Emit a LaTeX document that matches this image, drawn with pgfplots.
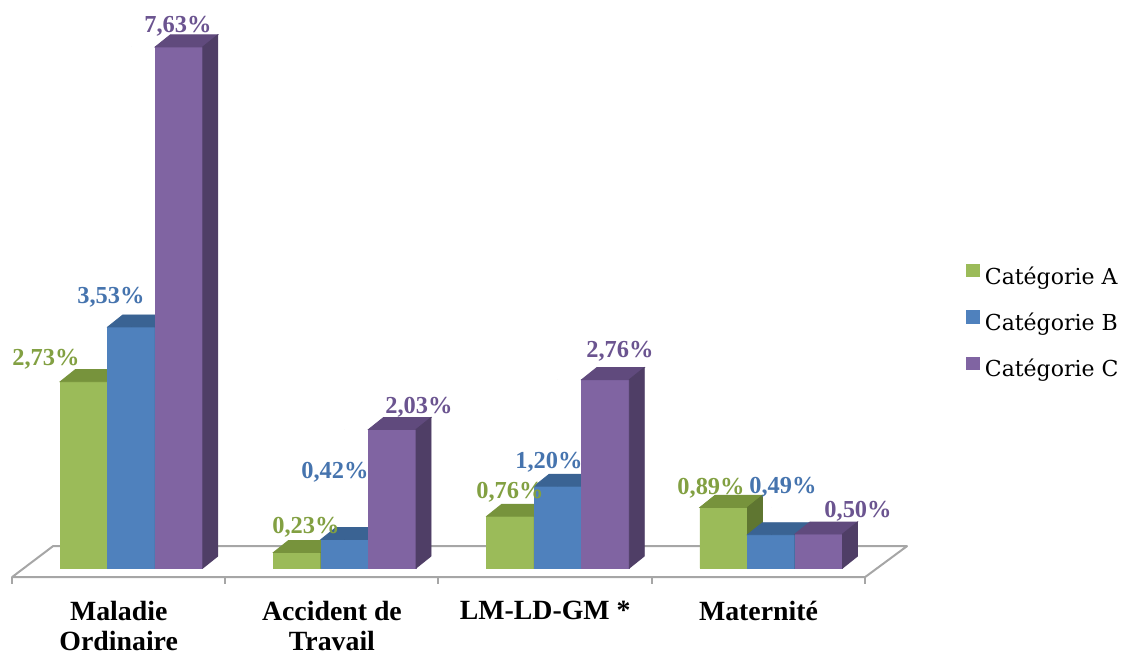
\documentclass[border=0pt]{standalone}
\usepackage{pgfplots}
\pgfplotsset{compat=1.18}
\usepackage{pgfplotstable}
\usepackage{fontspec}
\setmainfont{Liberation Serif}
\newfontfamily\legfont{DejaVu Serif}

\definecolor{gA}{HTML}{9BBB59}\definecolor{gAt}{HTML}{77933C}\definecolor{gAs}{HTML}{5F7631}
\definecolor{bB}{HTML}{4F81BD}\definecolor{bBt}{HTML}{3A6393}\definecolor{bBs}{HTML}{30527A}
\definecolor{pC}{HTML}{8064A2}\definecolor{pCt}{HTML}{604A7D}\definecolor{pCs}{HTML}{4F3E66}
\definecolor{lA}{HTML}{82A042}\definecolor{lB}{HTML}{4674AE}\definecolor{lC}{HTML}{6B5490}
\definecolor{floorc}{HTML}{A6A6A6}

% x = category, v = value (%), lx/ly = position of the value label
\pgfplotstableread{
x v lx ly
0 2.73 -0.4010 2.9722
1 0.23 0.8183 0.5124
2 0.76 1.7749 1.0249
3 0.89 2.7175 1.0835
}\dataA
\pgfplotstableread{
x v lx ly
0 3.53 -0.0961 3.8799
1 0.42 0.9543 1.3177
2 1.20 1.9578 1.4641
3 0.49 3.0551 1.0981
}\dataB
\pgfplotstableread{
x v lx ly
0 7.63 0.2181 7.8477
1 2.03 1.3482 2.2694
2 2.76 2.2907 3.0893
3 0.50 3.4069 0.7467
}\dataC

\pgfplotsset{
  threed/.style n args={4}{% #1 centre shift (pt), #2 top colour, #3 side colour, #4 front colour
    only marks, mark=*, mark size=0pt, mark options={draw=none,fill=none},
    visualization depends on={rawy \as \hv},
    scatter, point meta=y,
    scatter/@pre marker code/.code={%
      \begin{scope}
      \pgfkeys{/pgf/fpu=true}%
      \pgfmathparse{\hv*34.15}%
      \pgfmathfloattofixed{\pgfmathresult}%
      \let\hh\pgfmathresult
      \pgfkeys{/pgf/fpu=false}%
      \pgfmathsetmacro\xl{#1-11.875}%
      \pgfmathsetmacro\xr{#1+11.875}%
      \fill[#4] (\xl pt,0pt) rectangle (\xr pt,-\hh pt);
      \fill[#2] (\xl pt,0pt) -- (\xr pt,0pt) -- (\xr pt+7.5pt,6pt) -- (\xl pt+7.5pt,6pt) -- cycle;
      \fill[#3] (\xr pt,0pt) -- (\xr pt+7.5pt,6pt) -- (\xr pt+7.5pt,6pt-\hh pt) -- (\xr pt,-\hh pt) -- cycle;
      \end{scope}
    },
    scatter/@post marker code/.code={},
    forget plot,
  },
  sqleg/.style={legend image code/.code={\fill[##1] (0pt,-0.3pt) rectangle (6.8pt,6.3pt);}},
  labs/.style={% #1 colour
    only marks, mark=none, forget plot, point meta=explicit,
    nodes near coords={\pgfmathprintnumber[fixed,fixed zerofill,precision=2,use comma,assume math mode=true]{\pgfplotspointmeta}\%},
    every node near coord/.append style={font=\fontsize{12.2}{14}\selectfont\bfseries, text=#1, anchor=base, inner sep=0pt},
  },
}

\begin{document}
\begin{tikzpicture}
\begin{axis}[
  x=106.6pt, y=34.15pt,
  xmin=-0.6, xmax=3.7, ymin=0, ymax=7.7,
  clip=false,
  axis y line=none, axis x line*=bottom,
  x axis line style={draw=none}, xtick style={draw=none},
  ytick=\empty,
  xtick={-0.06,0.94,1.94,2.94},
  xticklabels={{Maladie\\Ordinaire},{Accident de\\Travail},{LM-LD-GM *},{Maternité}},
  xticklabel style={align=center, anchor=north, yshift=-13pt, font=\fontsize{13.9}{15}\selectfont\bfseries},
  legend style={at={(1.0495,0.4660)}, anchor=west, draw=none, fill=none, inner xsep=0pt, inner ysep=0pt,
    font=\legfont\fontsize{11}{12.5}\selectfont, row sep=7.8pt, nodes={inner sep=2.5pt}},
  legend cell align=left,
]
% bounding box of the whole picture (1126 x 655 px)
\path (axis cs:-0.6166,-1.2738) rectangle (axis cs:4.6636,8.3163);
% floor
\draw[floorc, line width=1pt, line join=round]
  (axis cs:-0.5604,-0.1318) -- (axis cs:-0.3681,0.3221) -- (axis cs:3.6366,0.3221) -- (axis cs:3.4396,-0.1318) -- cycle;
\draw[floorc, line width=1pt] (axis cs:-0.5604,-0.1318) -- ++(0pt,-3.5pt);
\draw[floorc, line width=1pt] (axis cs:0.4396,-0.1318) -- ++(0pt,-3.5pt);
\draw[floorc, line width=1pt] (axis cs:1.4396,-0.1318) -- ++(0pt,-3.5pt);
\draw[floorc, line width=1pt] (axis cs:2.4396,-0.1318) -- ++(0pt,-3.5pt);
\draw[floorc, line width=1pt] (axis cs:3.4396,-0.1318) -- ++(0pt,-3.5pt);

\addplot[ybar, bar width=23.75pt, bar shift=-23.75pt, fill=gA, draw=none, sqleg] table[x=x,y=v]{\dataA};
\addlegendentry{Catégorie A}
\addplot[threed={-23.75}{gAt}{gAs}{gA}] table[x=x,y=v]{\dataA};

\addplot[ybar, bar width=23.75pt, bar shift=0pt, fill=bB, draw=none, sqleg] table[x=x,y=v]{\dataB};
\addlegendentry{Catégorie B}
\addplot[threed={0}{bBt}{bBs}{bB}] table[x=x,y=v]{\dataB};

\addplot[ybar, bar width=23.75pt, bar shift=23.75pt, fill=pC, draw=none, sqleg] table[x=x,y=v]{\dataC};
\addlegendentry{Catégorie C}
\addplot[threed={23.75}{pCt}{pCs}{pC}] table[x=x,y=v]{\dataC};

% value labels on top
\addplot[labs=lA] table[x=lx,y=ly,meta=v]{\dataA};
\addplot[labs=lB] table[x=lx,y=ly,meta=v]{\dataB};
\addplot[labs=lC] table[x=lx,y=ly,meta=v]{\dataC};
\end{axis}
\end{tikzpicture}
\end{document}
